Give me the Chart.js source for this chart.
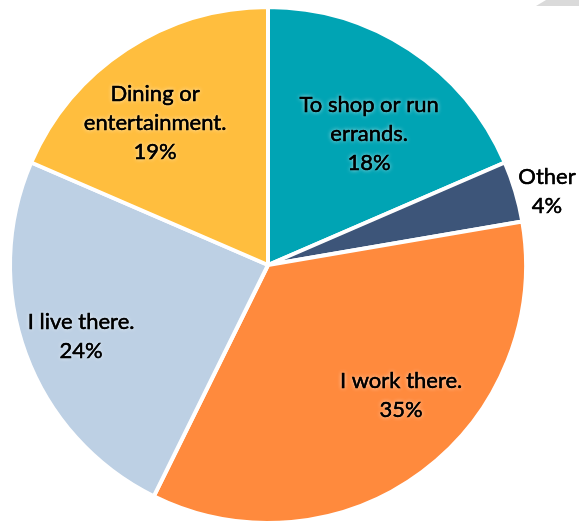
<!DOCTYPE html>
<html>
<head>
<meta charset="utf-8">
<script src="https://cdn.jsdelivr.net/npm/chart.js@4.4.1/dist/chart.umd.min.js"></script>
<style>
  html, body { margin: 0; padding: 0; background: #ffffff; overflow: hidden; width: 579px; height: 521px; }
  #wrap { position: relative; width: 579px; height: 525px; }
  #corner { position: absolute; left: 536px; top: 0; width: 43px; height: 6px; background: #DADADA;
            clip-path: polygon(10px 0, 43px 0, 43px 6px, 0 6px); }
</style>
</head>
<body>
<div id="wrap">
  <canvas id="c" width="579" height="525"></canvas>
  <div id="corner"></div>
</div>
<script>
const categories = ["To shop or run errands.", "Other", "I work there.", "I live there.", "Dining or entertainment."];
const shares = [18.5, 3.8, 35.0, 24.2, 18.5];
const percentLabels = ["18%", "4%", "35%", "24%", "19%"];
const labelLines = [["To shop or run", "errands."], ["Other"], ["I work there."], ["I live there."], ["Dining or", "entertainment."]];
const sliceColors = ["#00A4B4", "#3D5579", "#FF8A3D", "#BDD0E4", "#FFBE3E"];

// label anchor offsets relative to pie centre, as fractions of radius
const labelAnchors = [[0.395, -0.512], [1.090, -0.289], [0.520, 0.508], [-0.730, 0.277], [-0.441, -0.555]];

const labelPlugin = {
  id: 'sliceLabels',
  afterDatasetsDraw(chart) {
    const ctx = chart.ctx;
    const meta = chart.getDatasetMeta(0);
    ctx.save();
    ctx.font = '22px Lato, "Liberation Sans", sans-serif';
    ctx.textAlign = 'center';
    ctx.textBaseline = 'middle';
    const lh = 29;
    meta.data.forEach((arc, i) => {
      const R = arc.outerRadius - 2;
      const cx = arc.x + labelAnchors[i][0] * R;
      const cy = arc.y + labelAnchors[i][1] * R;
      const lines = labelLines[i].concat([percentLabels[i]]);
      const y0 = cy - (lines.length - 1) * lh / 2;
      lines.forEach((t, k) => {
        const y = y0 + k * lh;
        ctx.shadowColor = 'rgba(255,255,255,0.9)';
        ctx.shadowBlur = 4;
        ctx.fillStyle = '#000000';
        ctx.fillText(t, cx, y);
        ctx.shadowBlur = 0;
        ctx.lineWidth = 0.4;
        ctx.strokeStyle = '#000000';
        ctx.strokeText(t, cx, y);
        ctx.fillText(t, cx, y);
      });
    });
    ctx.restore();
  }
};

new Chart(document.getElementById('c'), {
  type: 'pie',
  data: {
    labels: categories,
    datasets: [{
      data: shares,
      backgroundColor: sliceColors,
      borderColor: '#ffffff',
      borderWidth: 4
    }]
  },
  options: {
    responsive: false,
    animation: false,
    layout: { padding: { left: 8, right: 51, top: 5, bottom: 0 } },
    plugins: {
      legend: { display: false },
      tooltip: { enabled: false }
    }
  },
  plugins: [labelPlugin]
});
</script>
</body>
</html>
